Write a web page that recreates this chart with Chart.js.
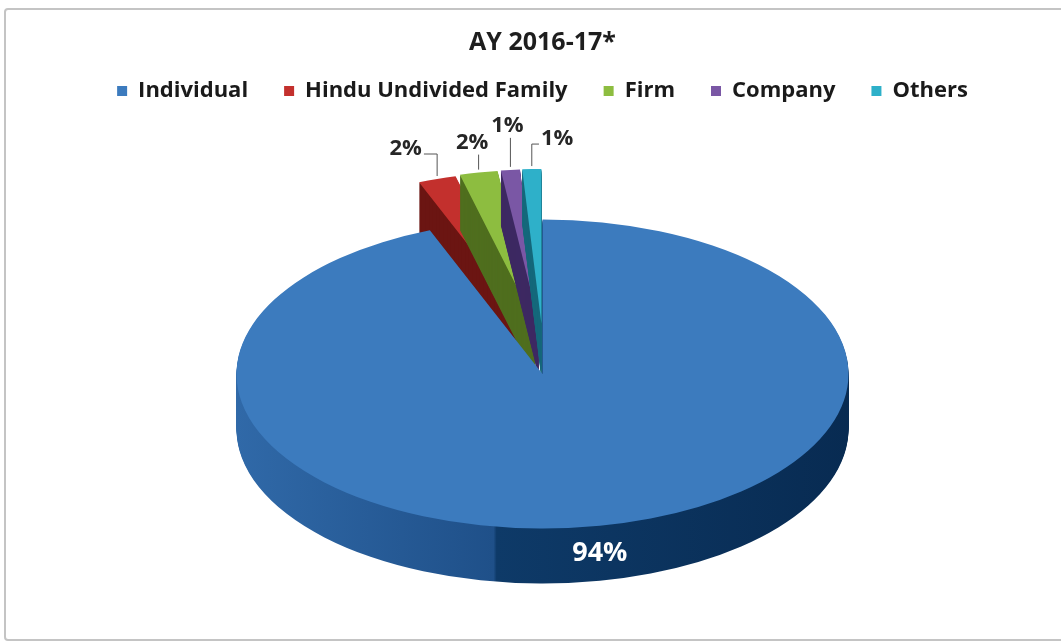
<!DOCTYPE html>
<html>
<head>
<meta charset="utf-8">
<title>AY 2016-17*</title>
<script src="https://cdn.jsdelivr.net/npm/chart.js@4.4.1/dist/chart.umd.min.js"></script>
<style>
  html, body { margin: 0; padding: 0; background: #fff; }
  #wrap { position: relative; width: 1061px; height: 641px; overflow: hidden; }
  #frame { position: absolute; left: 4px; top: 8px; width: 1080px; height: 629px; border: 2px solid #c4c4c4; border-radius: 4px; }
  #box { position: absolute; left: 0; top: 0; width: 1061px; height: 641px; }
</style>
</head>
<body>
<div id="wrap">
  <div id="frame"></div>
  <div id="box"><canvas id="pieChart"></canvas></div>
</div>
<script>
// Data
const categories = ['Individual', 'Hindu Undivided Family', 'Firm', 'Company', 'Others'];
const shares = [94, 2, 2, 1, 1];
const shareLabels = ['94%', '2%', '2%', '1%', '1%'];

// Colours (top face / wall)
const topColors = ['#3c7bbe', '#c3302d', '#8dbd40', '#7a57a5', '#2eb0c9'];
const wallColors = ['#0e3a68', '#6b1512', '#4f6e1e', '#3e2a63', '#17697c'];

const TILT = 0.505;   // vertical squash of the pie
const DEPTH = 55;     // thickness of the pie in px
const EXPLODE = 100;  // pull-out of the small slices
const FORESHORTEN = 0.35; // the back of the pie moves less sideways
const FONT = "'Open Sans', 'DejaVu Sans', sans-serif";

function explodeShift(arc, i) {
    const mid = (arc.startAngle + arc.endAngle) / 2;
    const e = i === 0 ? 0 : EXPLODE;
    return { dx: Math.cos(mid) * e * FORESHORTEN, dy: Math.sin(mid) * e };
}

// fake 3D: squash the pie and stack copies of every slice for the wall
const pie3d = {
    id: 'pie3d',
    beforeDatasetsDraw(chart) {
        const ctx = chart.ctx;
        const arcs = chart.getDatasetMeta(0).data;
        const cx = arcs[0].x, cy = arcs[0].y, R = arcs[0].outerRadius;

        const wallFill = ctx.createLinearGradient(cx - R, 0, cx + R, 0);
        wallFill.addColorStop(0, '#3069a8');
        wallFill.addColorStop(0.42, '#1f5089');
        wallFill.addColorStop(0.425, '#0e3a68');
        wallFill.addColorStop(1, '#082b52');

        // back slices first, big slice last so it covers their walls
        const order = arcs.map((a, i) => i).filter(i => i > 0).concat([0]);
        order.forEach(i => {
            const arc = arcs[i];
            const s = explodeShift(arc, i);
            const keep = arc.options;
            for (let d = DEPTH; d >= 0; d--) {
                ctx.save();
                ctx.translate(cx, cy + d);
                ctx.scale(1, TILT);
                ctx.translate(-cx + s.dx, -cy + s.dy);
                const fill = d === 0 ? keep.backgroundColor : (i === 0 ? wallFill : wallColors[i]);
                arc.options = Object.assign({}, keep, { backgroundColor: fill });
                arc.draw(ctx);
                ctx.restore();
            }
            arc.options = keep;
        });
        return false;
    },
    afterDraw(chart) {
        const ctx = chart.ctx;
        const arcs = chart.getDatasetMeta(0).data;
        const cx = arcs[0].x, cy = arcs[0].y, R = arcs[0].outerRadius;
        const outside = [];

        ctx.save();
        ctx.textAlign = 'center';
        ctx.textBaseline = 'middle';
        arcs.forEach((arc, i) => {
            const mid = (arc.startAngle + arc.endAngle) / 2;
            if (Math.sin(mid) > 0) {
                // front slice: label on the wall
                ctx.font = 'bold 27px ' + FONT;
                ctx.fillStyle = '#ffffff';
                ctx.fillText(shareLabels[i], cx + Math.cos(mid) * R, cy + Math.sin(mid) * R * TILT + DEPTH / 2);
            } else {
                const s = explodeShift(arc, i);
                outside.push({
                    i,
                    x: cx + Math.cos(mid) * R + s.dx,
                    y: cy + (Math.sin(mid) * R + s.dy) * TILT
                });
            }
        });

        const meanX = outside.reduce((t, o) => t + o.x, 0) / outside.length;
        ctx.font = 'bold 22px ' + FONT;
        outside.forEach(o => {
            o.w = ctx.measureText(shareLabels[o.i]).width;
            o.lx = o.x + (o.x - meanX) * 0.6;
            o.ly = o.y - 30;
        });
        // crowded neighbours: lift the earlier label above its own slice
        for (let k = 1; k < outside.length; k++) {
            const a = outside[k - 1], b = outside[k];
            if (Math.abs(b.lx - a.lx) < (a.w + b.w) / 2 + 6) {
                a.lx = a.x - 3;
                a.ly -= 14;
            }
        }

        ctx.fillStyle = '#262626';
        ctx.strokeStyle = '#555';
        ctx.lineWidth = 1;
        outside.forEach(o => {
            let side = o.x;
            if (o.lx + o.w / 2 < o.x) side = o.lx + o.w / 2 + 2;
            else if (o.lx - o.w / 2 > o.x) side = o.lx - o.w / 2 - 2;
            const lineY = side === o.x ? o.ly + 12 : o.ly + 5;
            ctx.beginPath();
            ctx.moveTo(side, lineY);
            ctx.lineTo(o.x, lineY);
            ctx.lineTo(o.x, o.y - 3);
            ctx.stroke();
            ctx.fillText(shareLabels[o.i], o.lx, o.ly);
        });
        ctx.restore();
    }
};

new Chart(document.getElementById('pieChart'), {
    type: 'pie',
    data: {
        labels: categories,
        datasets: [{
            data: shares,
            backgroundColor: topColors,
            borderWidth: 0,
            hoverOffset: 0,
            radius: 306
        }]
    },
    options: {
        responsive: true,
        maintainAspectRatio: false,
        animation: false,
        events: [],
        layout: { padding: { left: 24, right: 0, top: 0, bottom: 5 } },
        plugins: {
            title: {
                display: true,
                text: 'AY 2016-17*',
                color: '#1e1e1e',
                font: { family: FONT, size: 25, weight: 'bold', lineHeight: 1 },
                padding: { top: 30.5, bottom: -11.5 }
            },
            legend: {
                position: 'top',
                labels: {
                    color: '#1a1a1a',
                    font: { family: FONT, size: 22, weight: 'bold' },
                    boxWidth: 10,
                    boxHeight: 10,
                    padding: 36
                }
            },
            tooltip: { enabled: false }
        }
    },
    plugins: [pie3d]
});
</script>
</body>
</html>
